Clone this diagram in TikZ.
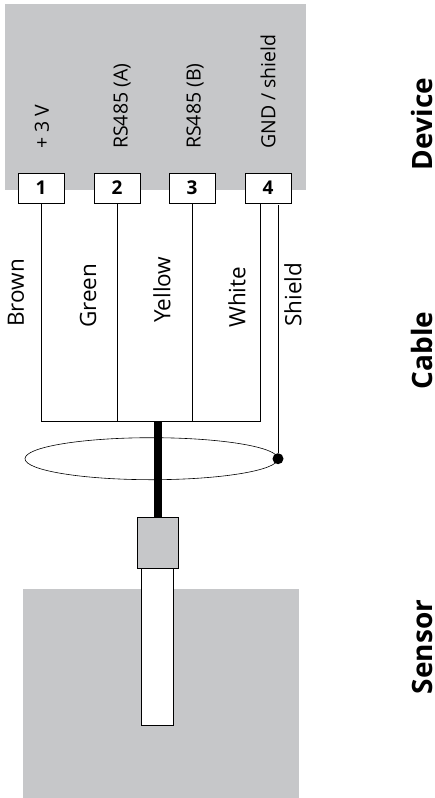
\documentclass[tikz,border=0pt]{standalone}
\usepackage{fontspec}
\setmainfont{Open Sans}
\usetikzlibrary{positioning,shapes.geometric}
\definecolor{panelgray}{HTML}{C6C7C9}
\tikzset{
  panel/.style={fill=panelgray,draw=none,minimum height=#1,inner sep=0pt},
  terminal/.style={draw,fill=white,line width=0.8pt,minimum width=46pt,minimum height=30pt,inner sep=0pt,font=\fontsize{19}{19}\selectfont\bfseries},
  signal/.style={rotate=90,anchor=west,inner sep=0pt,font=\fontsize{19.5}{19.5}\selectfont},
  colour/.style={rotate=90,anchor=west,inner sep=0pt,font=\fontsize{22.5}{22.5}\selectfont},
  section/.style={rotate=90,anchor=base,inner sep=0pt,font=\fontsize{28}{28}\selectfont\bfseries},
  wire/.style={line width=0.8pt},
}
\begin{document}
\begin{tikzpicture}[x=1pt,y=-1pt]
  \useasboundingbox (0,0) rectangle (435,798);
  % grey areas
  \node[panel=186pt,minimum width=301pt] (device) at (155.5,97) {};
  \node[panel=209pt,minimum width=276pt] (sensor) at (161,693.5) {};
  % terminals
  \foreach \n/\x in {1/41,2/117,3/192,4/268}
    \node[terminal] (t\n) at (\x,188) {\n};
  % terminal labels
  \node[signal] (s1) at (42,149) {+ 3 V};
  \node[signal] (s2) at (122,149) {RS485 (A)};
  \node[signal] (s3) at (195,149) {RS485 (B)};
  \node[signal] (s4) at (268,149) {GND / shield};
  % cable
  \coordinate (c1) at (41,421.5);
  \coordinate (c2) at (117,421.5);
  \coordinate (c3) at (192,421.5);
  \coordinate (c4) at (260,421.5);
  \coordinate (c4top) at (260,203);
  \coordinate (shieldtop) at (278,205);
  \node[draw,ellipse,line width=0.6pt,minimum width=253pt,minimum height=42pt,inner sep=0pt] (loop) at (151.5,458.7) {};
  \node[fill,circle,minimum size=11pt,inner sep=0pt] (dot) at (278,458.7) {};
  \draw[wire] (t1.south) -- (c1);
  \draw[wire] (t2.south) -- (c2);
  \draw[wire] (t3.south) -- (c3);
  \draw[wire] (c4top) -- (c4);
  \draw[wire] (c1) -- (c4);
  \draw[wire] (shieldtop) -- (dot);
  % sensor
  \node[draw,fill=panelgray,line width=0.8pt,minimum width=41pt,minimum height=51pt,inner sep=0pt] (plug) at (157.5,542.5) {};
  \node[draw,fill=white,line width=1pt,minimum width=32pt,minimum height=156.5pt,inner sep=0pt,below=0pt of plug] (probe) {};
  \coordinate (cabletop) at (plug.north |- c1);
  \draw[line width=8pt] (cabletop) -- (plug.north);
  % wire colours
  \node[colour] (w1) at (16,327) {Brown};
  \node[colour] (w2) at (88,328) {Green};
  \node[colour] (w3) at (162,323) {Yellow};
  \node[colour] (w4) at (237,328) {White};
  \node[colour] (w5) at (293,327) {Shield};
  % right column
  \node[section] (l1) at (432.5,124) {Device};
  \node[section] (l2) at (432.5,350.5) {Cable};
  \node[section] (l3) at (432.5,647) {Sensor};
\end{tikzpicture}
\end{document}
